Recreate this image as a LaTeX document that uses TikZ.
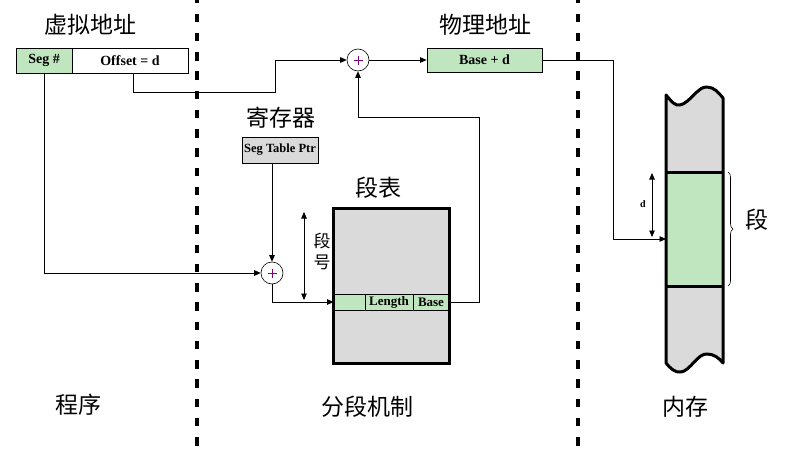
\documentclass[tikz,border=0pt]{standalone}
\usepackage{fontspec}
\setmainfont{Liberation Serif}
\newfontfamily\cjk{Noto Sans CJK SC}
\usetikzlibrary{arrows.meta,decorations.pathreplacing,calc}
\definecolor{boxgreen}{RGB}{192,230,192}
\definecolor{boxgray}{RGB}{218,218,218}
\definecolor{plusc}{RGB}{128,0,128}
\begin{document}
\begin{tikzpicture}[x=1pt,y=-1pt,
  conn/.style={line width=0.8pt},
  arr/.style={conn,-{Triangle[length=6.5pt,width=5.5pt]}},
  darr/.style={conn,{Triangle[length=6.5pt,width=5.5pt]}-{Triangle[length=6.5pt,width=5.5pt]}},
  fieldbox/.style={draw,line width=0.8pt,inner sep=0pt,font=\bfseries\fontsize{14}{14}\selectfont},
  cell/.style={draw,line width=0.8pt,fill=boxgreen,inner sep=0pt,minimum height=16pt,font=\bfseries\fontsize{13}{13}\selectfont},
  adder/.style={draw,circle,line width=0.6pt,minimum size=22pt,inner sep=0pt},
  plusmark/.style={draw=plusc,line width=0.9pt},
  title/.style={font=\cjk\fontsize{23}{23}\selectfont},
  divider/.style={line width=4.5pt,dash pattern=on 8.5pt off 10.74pt},
  thick3/.style={line width=3pt}
]
\useasboundingbox (0,0) rectangle (802,463);

% dividers
\draw[divider] (197,-5.5) -- (197,447);
\draw[divider] (578,-5.5) -- (578,447);

% titles
\node[title] (tva) at (90,25) {虚拟地址};
\node[title] (tpa) at (485,25) {物理地址};
\node[title] (treg) at (281,118) {寄存器};
\node[title] (ttab) at (378,188) {段表};
\node[title] (tprog) at (78,405) {程序};
\node[title] (tmech) at (367,407) {分段机制};
\node[title] (tmem) at (685,407) {内存};
\node[title] (tseg) at (757,220) {段};
\node[font=\cjk\fontsize{17}{21}\selectfont,align=center,inner sep=0pt] (tsegno) at (322,251) {段\\号};

% virtual address
\node[fieldbox,fill=boxgreen,minimum width=56pt,minimum height=25pt] (seg) at (44,60.5) {Seg \#};
\node[fieldbox,fill=white,minimum width=116pt,minimum height=25pt] (off) at (130,60.5) {Offset = d};

% adders
\node[adder] (add1) at (358,60) {};
\node[adder] (add2) at (272,273) {};
\foreach \a in {add1,add2}{
  \draw[plusmark] ([xshift=-4.5pt]\a.center) -- ([xshift=4.5pt]\a.center);
  \draw[plusmark] ([yshift=-4.5pt]\a.center) -- ([yshift=4.5pt]\a.center);
}

% physical address
\node[fieldbox,fill=boxgreen,minimum width=115pt,minimum height=24pt] (based) at (484.5,60) {Base + d};

% register
\node[fieldbox,fill=boxgray,minimum width=76pt,minimum height=26pt,font=\bfseries\fontsize{12.5}{12.5}\selectfont] (ptr) at (280,150) {Seg Table Ptr};

% segment table
\node[fill=boxgray,minimum width=115pt,minimum height=154pt,inner sep=0pt] (table) at (391.5,286) {};
\node[cell,minimum width=31pt] (e0) at (349.5,302) {};
\node[cell,minimum width=48pt] (elen) at (389,302) {Length};
\node[cell,minimum width=36pt] (ebase) at (431,302) {Base};
\draw[thick3] (table.north west) rectangle (table.south east);

% memory
\fill[boxgray] (666,95) .. controls (672,102) and (675,106) .. (680,105)
  .. controls (690,103) and (698,86) .. (707,87)
  .. controls (714,87) and (719,93) .. (723,98) -- (723,363)
  .. controls (719,358) and (714,354) .. (707,354)
  .. controls (698,353) and (690,371) .. (681,372)
  .. controls (675,373) and (670,368) .. (666,363) -- cycle;
\fill[boxgreen] (666,172) rectangle (723,286);
\draw[thick3,line join=round] (666,95) .. controls (672,102) and (675,106) .. (680,105)
  .. controls (690,103) and (698,86) .. (707,87)
  .. controls (714,87) and (719,93) .. (723,98) -- (723,363)
  .. controls (719,358) and (714,354) .. (707,354)
  .. controls (698,353) and (690,371) .. (681,372)
  .. controls (675,373) and (670,368) .. (666,363) -- cycle;
\draw[thick3] (666,172) -- (723,172);
\draw[thick3] (666,286) -- (723,286);
\coordinate (brtop) at (728,172);
\coordinate (brbot) at (728,286);
\draw[line width=0.6pt,decorate,decoration={brace,amplitude=5pt}] (brtop) -- (brbot);

% connectors
\draw[arr] (seg.south) |- (add2.west);
\coordinate (k1) at (275,92);
\draw[arr] ([xshift=3pt]off.south) |- (k1) |- (add1.west);
\draw[arr] (add1.east) -- (based.west);
\coordinate (k2) at (479,117);
\draw[arr] (ebase.east) -| (k2) -| (add1.south);
\draw[arr] (ptr.south -| add2) -- (add2.north);
\draw[arr] (add2.south) |- (e0.west);
\coordinate (sn1) at (304,212);
\coordinate (sn2) at (304,300);
\draw[darr] (sn1) -- (sn2);
\coordinate (k3) at (613,239);
\coordinate (memin) at (666,239);
\draw[arr] (based.east) -| (k3) -- (memin);
\coordinate (d1) at (652,173);
\coordinate (d2) at (652,237);
\draw[darr] (d1) -- (d2);
\node[font=\bfseries\fontsize{10}{10}\selectfont] (dlab) at (643,204) {d};
\end{tikzpicture}
\end{document}
